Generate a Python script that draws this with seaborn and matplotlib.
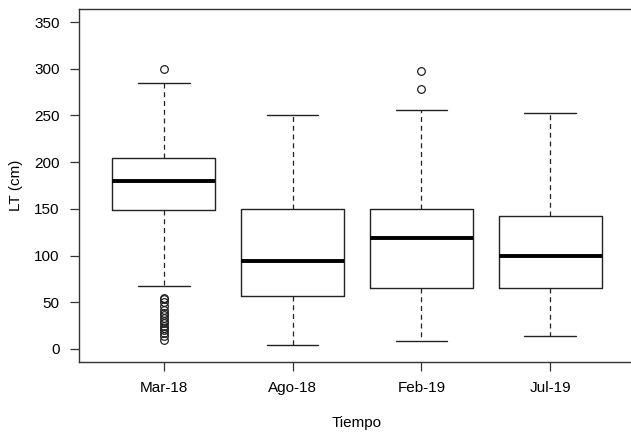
import matplotlib
matplotlib.use("Agg")
import matplotlib.pyplot as plt
import seaborn as sns

# === DATA ===
FECHAS = ['Mar-18', 'Ago-18', 'Feb-19', 'Jul-19']
Q1 = [149, 57, 65, 65]
MEDIANA = [180, 94, 119, 100]
Q3 = [204, 150, 150, 142]
BIGOTE_INF = [67, 4, 9, 14]
BIGOTE_SUP = [285, 250, 256, 253]
ATIPICOS = [
    [300, 10, 14, 17, 20, 22, 25, 28, 30, 33, 36, 39, 42, 46, 50, 53, 55],
    [],
    [298, 278],
    [],
]

sns.set_style("white")
plt.rcParams['font.family'] = ['Liberation Sans', 'DejaVu Sans']

stats = []
for i, f in enumerate(FECHAS):
    stats.append(dict(label=f, q1=Q1[i], med=MEDIANA[i], q3=Q3[i],
                      whislo=BIGOTE_INF[i], whishi=BIGOTE_SUP[i],
                      fliers=ATIPICOS[i]))

fig = plt.figure(figsize=(6.31, 4.34), dpi=100)
ax = fig.add_axes([79 / 631, 72 / 434, 556 / 631, 353 / 434])

ax.bxp(stats, positions=[1, 2, 3, 4], widths=0.8,
       boxprops=dict(color='#222222', linewidth=1.0),
       medianprops=dict(color='black', linewidth=2.8),
       whiskerprops=dict(color='#222222', linewidth=0.9, linestyle=(0, (4, 3))),
       capprops=dict(color='#222222', linewidth=1.0),
       flierprops=dict(marker='o', markerfacecolor='none',
                       markeredgecolor='#222222', markersize=5.5,
                       markeredgewidth=0.9))

ax.set_xlim(0.34, 4.66)
ax.set_ylim(-14, 364)
ax.set_yticks([0, 50, 100, 150, 200, 250, 300, 350])
ax.set_xticks([1, 2, 3, 4])
ax.set_xticklabels(FECHAS)

for s in ax.spines.values():
    s.set_color('#333333')
    s.set_linewidth(1.0)

ax.tick_params(axis='both', direction='out', length=6.5, width=0.9,
               color='#333333', labelsize=11, labelcolor='black',
               bottom=True, left=True)
ax.tick_params(axis='x', pad=7)
ax.tick_params(axis='y', pad=7.5)

ax.set_xlabel('Tiempo', fontsize=11, color='black')
ax.set_ylabel('LT (cm)', fontsize=11, color='black')
ax.xaxis.set_label_coords(0.5, -0.153)
ax.yaxis.set_label_coords(-0.101, 0.5)

plt.savefig("out.png", dpi=100)
